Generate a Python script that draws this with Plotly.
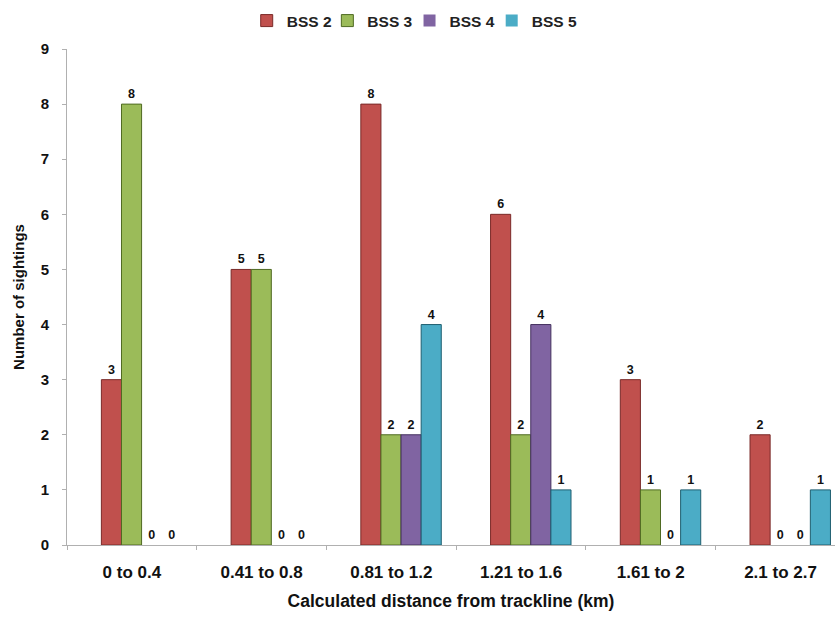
import plotly.graph_objects as go

categories = ["0 to 0.4", "0.41 to 0.8", "0.81 to 1.2", "1.21 to 1.6", "1.61 to 2", "2.1 to 2.7"]
bss2 = [3, 5, 8, 6, 3, 2]
bss3 = [8, 5, 2, 2, 1, 0]
bss4 = [0, 0, 2, 4, 0, 0]
bss5 = [0, 0, 4, 1, 1, 1]
y_ticks = [0, 1, 2, 3, 4, 5, 6, 7, 8, 9]

series = [
    ("BSS 2", bss2, "#C0504D", "#7a2a28", -0.235, "legend", 0.234),
    ("BSS 3", bss3, "#9BBB59", "#4f6a22", -0.08, "legend2", 0.339),
    ("BSS 4", bss4, "#8064A2", "#44305e", 0.075, "legend3", 0.446),
    ("BSS 5", bss5, "#4BACC6", "#1f5f70", 0.23, "legend4", 0.553),
]

FONT = "Liberation Sans, Arial, sans-serif"

fig = go.Figure()
legends = {}
for name, vals, col, edge, off, lg, lx in series:
    fig.add_trace(go.Bar(
        x=categories, y=vals, name=name, legend=lg,
        marker=dict(color=col, line=dict(color=edge, width=[0 if v == 0 else 1 for v in vals])),
        offset=off, width=0.155,
        text=[str(v) for v in vals], textposition="outside",
        textfont=dict(family=FONT, size=12.5, color="#111", weight="bold"),
        cliponaxis=False,
    ))
    legends[lg] = dict(orientation="h", x=lx, xanchor="left", y=1.0907, yanchor="top",
                       font=dict(family=FONT, size=15.5, color="#222", weight="bold"),
                       bgcolor="rgba(0,0,0,0)")

fig.update_layout(
    width=835, height=617,
    margin=dict(l=67, r=0, t=49, b=72),
    paper_bgcolor="white", plot_bgcolor="white",
    barmode="overlay",
    font=dict(family=FONT, color="#111"),
    showlegend=True,
    xaxis=dict(
        range=[-0.5, 5.42], showline=True, linecolor="#b0b0b0", linewidth=1,
        ticks="outside", tickson="boundaries", ticklen=4, tickcolor="#b0b0b0",
        showgrid=False, zeroline=False, automargin=False, ticklabelstandoff=12,
        tickfont=dict(family=FONT, size=17, color="#111", weight="bold"),
        title=dict(text="Calculated distance from trackline (km)", standoff=13,
                   font=dict(family=FONT, size=17.5, color="#111", weight="bold")),
    ),
    yaxis=dict(
        range=[0, 9], tickvals=y_ticks, showline=True, linecolor="#b0b0b0", linewidth=1,
        ticks="outside", ticklen=4, tickcolor="#b0b0b0",
        showgrid=False, zeroline=False, automargin=False, ticklabelstandoff=10,
        tickfont=dict(family=FONT, size=15, color="#111", weight="bold"),
        title=dict(text="Number of sightings", standoff=12,
                   font=dict(family=FONT, size=15, color="#111", weight="bold")),
    ),
    **legends,
)

fig.write_html("out.html", config={"displayModeBar": False},
               post_script="document.body.style.margin='0';document.body.style.overflow='hidden';")
